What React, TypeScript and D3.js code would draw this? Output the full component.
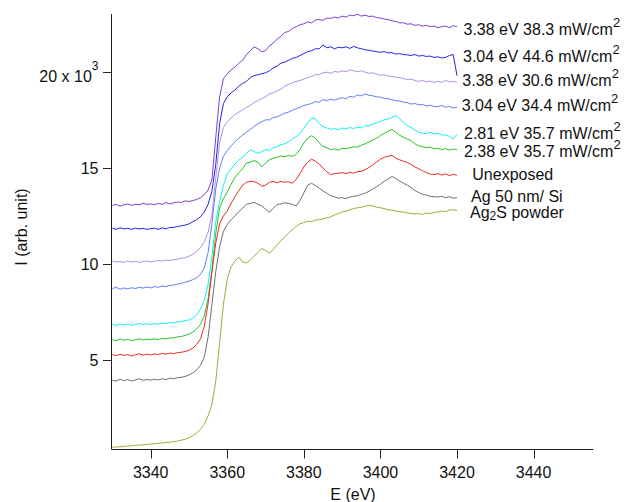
import React from "react";
import * as d3 from "d3";

const W = 628;
const H = 502;
const FONT = "'Liberation Sans', Arial, Helvetica, sans-serif";

// energy grid (eV)
const energies: number[] = d3.range(3330, 3421, 1);

// intensities in units of 10^3
const s338_383 = [13.05,13.1,13.0,13.08,13.12,13.05,13.1,13.08,13.15,13.1,
  13.12,13.08,13.15,13.1,13.2,13.12,13.18,13.22,13.2,13.28,
  13.25,13.3,13.35,13.45,13.6,13.85,14.4,16.6,18.7,19.65,
  19.9,20.1,20.25,20.45,20.6,20.9,21.1,21.3,21.2,21.05,
  21.1,21.35,21.5,21.7,21.85,22.05,22.1,22.25,22.35,22.45,
  22.5,22.6,22.55,22.7,22.72,22.68,22.8,22.78,22.85,22.8,
  22.9,22.85,22.95,22.92,23.0,22.9,22.95,22.88,22.9,22.82,
  22.8,22.75,22.72,22.65,22.62,22.55,22.55,22.48,22.5,22.42,
  22.45,22.38,22.42,22.35,22.38,22.3,22.35,22.38,22.3,22.4,
  22.35];
const s304_446 = [11.85,11.8,11.88,11.82,11.85,11.8,11.86,11.82,11.85,11.8,
  11.84,11.86,11.8,11.88,11.82,11.9,11.9,11.95,11.98,12.02,
  12.08,12.2,12.3,12.45,12.7,13.1,13.8,15.2,17.3,18.35,
  18.7,18.9,19.05,19.25,19.4,19.5,19.7,19.8,19.85,19.9,
  19.95,20.05,20.2,20.3,20.45,20.5,20.6,20.7,20.75,20.85,
  20.95,21.05,21.1,21.2,21.2,21.4,21.25,21.3,21.2,21.28,
  21.25,21.3,21.22,21.32,21.25,21.2,21.15,21.12,21.08,21.05,
  21.02,21.05,20.98,21.0,20.92,20.95,20.9,20.88,20.85,20.9,
  20.82,20.85,20.8,20.82,20.75,20.78,20.72,20.75,20.85,20.9,
  19.8];
const s338_306 = [10.15,10.1,10.12,10.08,10.15,10.1,10.13,10.08,10.12,10.15,
  10.1,10.14,10.18,10.15,10.2,10.18,10.22,10.25,10.3,10.32,
  10.4,10.5,10.65,10.85,11.15,11.65,12.6,14.5,16.3,17.1,
  17.4,17.6,17.78,17.9,18.02,18.15,18.25,18.4,18.5,18.6,
  18.7,18.85,18.9,19.0,19.1,19.25,19.35,19.42,19.5,19.55,
  19.62,19.7,19.75,19.85,19.85,19.95,19.98,19.92,20.02,19.98,
  20.05,20.0,20.1,20.05,20.0,20.05,19.98,19.92,19.95,19.88,
  19.82,19.85,19.78,19.75,19.72,19.7,19.65,19.6,19.62,19.55,
  19.5,19.55,19.48,19.52,19.45,19.5,19.45,19.55,19.48,19.5,
  19.45];
const s304_344 = [8.72,8.78,8.68,8.75,8.7,8.76,8.72,8.78,8.74,8.8,
  8.75,8.82,8.78,8.85,8.82,8.88,8.9,8.95,8.98,9.05,
  9.1,9.18,9.28,9.45,9.8,10.6,12.1,13.9,15.0,15.6,
  15.9,16.15,16.35,16.55,16.7,16.85,17.0,17.15,17.3,17.4,
  17.5,17.5,17.62,17.65,17.75,17.85,17.9,18.0,18.08,18.15,
  18.25,18.3,18.35,18.45,18.42,18.55,18.5,18.58,18.52,18.6,
  18.65,18.6,18.72,18.68,18.8,18.75,18.85,18.78,18.75,18.7,
  18.68,18.62,18.6,18.55,18.5,18.48,18.42,18.4,18.32,18.35,
  18.28,18.3,18.22,18.25,18.2,18.18,18.25,18.15,18.2,18.12,
  18.15];
const s281_357 = [6.85,6.8,6.88,6.82,6.86,6.8,6.85,6.9,6.85,6.88,
  6.84,6.9,6.86,6.92,6.88,6.95,6.92,6.98,7.0,7.05,
  7.08,7.18,7.35,7.65,8.1,8.95,10.4,12.2,13.25,14.1,
  14.7,14.95,15.2,15.4,15.55,15.75,15.95,15.85,15.75,15.85,
  15.95,15.9,16.05,16.1,16.2,16.25,16.35,16.5,16.62,16.8,
  17.05,17.35,17.6,17.55,17.3,17.15,17.08,17.0,17.05,16.98,
  17.08,17.02,17.1,17.05,17.12,17.08,17.18,17.2,17.28,17.35,
  17.42,17.5,17.55,17.62,17.72,17.55,17.38,17.2,17.1,16.95,
  16.85,16.82,16.78,16.85,16.75,16.8,16.7,16.72,16.65,16.5,
  16.75];
const s238_357 = [6.05,6.0,6.1,6.02,6.08,6.0,6.05,6.1,6.04,6.08,
  6.05,6.1,6.06,6.12,6.1,6.15,6.14,6.2,6.22,6.28,
  6.35,6.45,6.62,6.85,7.3,8.2,9.7,11.6,12.9,13.4,
  13.75,14.15,14.5,14.75,14.95,15.25,15.3,15.38,15.3,15.05,
  15.25,15.42,15.5,15.55,15.62,15.58,15.65,15.6,15.7,15.95,
  16.3,16.55,16.68,16.55,16.3,16.12,16.05,15.95,15.98,15.92,
  16.02,16.0,16.05,16.1,16.08,16.18,16.25,16.35,16.45,16.55,
  16.68,16.8,16.9,17.0,16.85,16.7,16.6,16.5,16.42,16.25,
  16.15,16.1,16.05,16.08,16.0,16.02,15.95,16.0,15.92,15.98,
  15.95];
const sUnexposed = [5.27,5.22,5.3,5.24,5.28,5.2,5.27,5.32,5.25,5.3,
  5.26,5.32,5.28,5.34,5.3,5.36,5.33,5.38,5.4,5.44,
  5.5,5.62,5.8,6.1,6.75,7.95,9.6,11.1,12.1,12.5,
  12.75,13.15,13.5,13.8,14.1,14.25,14.3,14.28,14.2,14.05,
  14.1,14.25,14.3,14.22,14.3,14.25,14.28,14.2,14.4,14.7,
  15.05,15.3,15.45,15.35,15.2,15.0,14.8,14.65,14.7,14.72,
  14.75,14.7,14.78,14.72,14.8,14.82,14.9,15.02,15.15,15.3,
  15.45,15.55,15.6,15.65,15.5,15.42,15.35,15.28,15.18,15.05,
  14.95,14.85,14.75,14.68,14.65,14.7,14.62,14.68,14.6,14.66,
  14.62];
const sAgSi = [3.95,3.9,4.0,3.92,3.98,3.9,3.96,4.02,3.94,3.98,
  3.95,4.0,3.96,4.02,3.98,4.05,4.02,4.08,4.1,4.14,
  4.22,4.32,4.48,4.72,5.15,6.2,7.9,9.6,10.9,11.7,
  12.05,12.3,12.5,12.72,12.9,13.1,13.15,13.2,13.1,13.02,
  12.85,12.68,12.9,13.1,13.12,13.18,13.15,13.1,13.02,13.3,
  13.7,14.1,14.2,14.08,13.95,13.8,13.68,13.55,13.5,13.42,
  13.45,13.4,13.48,13.52,13.55,13.62,13.68,13.78,13.9,14.02,
  14.15,14.3,14.42,14.55,14.45,14.32,14.2,14.1,13.98,13.82,
  13.72,13.62,13.58,13.52,13.5,13.48,13.52,13.45,13.5,13.42,
  13.45];
const sAg2S = [0.45,0.47,0.48,0.5,0.52,0.53,0.55,0.57,0.58,0.6,
  0.62,0.64,0.66,0.68,0.7,0.72,0.75,0.78,0.82,0.88,
  0.95,1.06,1.2,1.38,1.65,2.1,2.7,3.9,5.9,7.9,
  9.2,9.85,10.15,10.35,10.1,10.05,10.2,10.4,10.6,10.8,
  10.7,10.55,10.75,11.0,11.2,11.4,11.6,11.78,11.95,12.1,
  12.15,12.22,12.2,12.28,12.3,12.35,12.4,12.45,12.55,12.62,
  12.7,12.75,12.82,12.88,12.92,12.95,13.0,13.05,13.02,12.95,
  12.92,12.88,12.82,12.8,12.75,12.72,12.7,12.65,12.62,12.6,
  12.62,12.58,12.65,12.62,12.68,12.7,12.75,12.72,12.8,12.82,
  12.78];

const seriesValues = [s338_383, s304_446, s338_306, s304_344, s281_357, s238_357, sUnexposed, sAgSi, sAg2S];
const seriesColors = ["#7b3fd6", "#2222ee", "#b08ee8", "#5f7ff5", "#14eef0", "#26c426", "#f02828", "#707070", "#a8a838"];

// label: [main text, sup/sub text, kind]
const labelMain = ["3.38 eV 38.3 mW/cm", "3.04 eV 44.6 mW/cm", "3.38 eV 30.6 mW/cm", "3.04 eV 34.4 mW/cm", "2.81 eV 35.7 mW/cm", "2.38 eV 35.7 mW/cm", "Unexposed", "Ag 50 nm/ Si", "Ag"];
const labelX = [463.5, 463, 462.3, 461.7, 464, 464, 472.3, 471, 470];
const labelY = [35, 62.3, 86, 111, 139.3, 157.3, 179.5, 202, 217.5];

const xTicks = [3340, 3360, 3380, 3400, 3420, 3440];
const yTicks = [5, 10, 15, 20];

export default function App() {
  const x = d3.scaleLinear().domain([3329.76, 3455.6]).range([111.5, 593.3]);
  const y = d3.scaleLinear().domain([0.364, 23.01]).range([449, 14]);
  const line = d3.line<number>().x((_, i) => x(energies[i])).y((d) => y(d));
  const axisColor = "#222";

  return (
    <svg width={W} height={H} style={{ position: "absolute", left: 0, top: 0, background: "#fff" }} fontFamily={FONT}>
      <rect x={0} y={0} width={W} height={H} fill="#fff" />
      {seriesValues.map((vals, i) => (
        <path key={i} d={line(vals) || ""} fill="none" stroke={seriesColors[i]} strokeWidth={1} strokeLinejoin="round" />
      ))}
      {/* axes */}
      <line x1={111.5} y1={14} x2={111.5} y2={449.5} stroke={axisColor} strokeWidth={1} />
      <line x1={111.5} y1={449.5} x2={593.3} y2={449.5} stroke={axisColor} strokeWidth={1} />
      {xTicks.map((t) => (
        <g key={t}>
          <line x1={Math.round(x(t)) + 0.5} x2={Math.round(x(t)) + 0.5} y1={449.5} y2={458.5} stroke={axisColor} strokeWidth={1} />
          <text x={x(t)} y={477.5} fontSize={16} textAnchor="middle" fill="#111">{t}</text>
        </g>
      ))}
      {yTicks.map((t) => (
        <g key={t}>
          <line x1={103} x2={111.5} y1={Math.round(y(t)) + 0.5} y2={Math.round(y(t)) + 0.5} stroke={axisColor} strokeWidth={1} />
          {t === 20 ? (
            <text x={98.5} y={y(t) + 10} fontSize={16} textAnchor="end" fill="#111">
              20 x 10<tspan fontSize={12} dy={-12}>3</tspan>
            </text>
          ) : (
            <text x={98.5} y={y(t) + 5.8} fontSize={16} textAnchor="end" fill="#111">{t}</text>
          )}
        </g>
      ))}
      <text x={353} y={499.5} fontSize={16} textAnchor="middle" fill="#111">E (eV)</text>
      <text transform={`translate(27,227) rotate(-90)`} fontSize={16} textAnchor="middle" fill="#111">I (arb. unit)</text>
      {/* labels */}
      {labelMain.map((t, i) => (
        <text key={i} x={labelX[i]} y={labelY[i]} fontSize={16} fill="#111">
          {t}
          {i < 6 ? <tspan fontSize={13} dy={-8.5}>2</tspan> : null}
          {i === 8 ? (
            <>
              <tspan fontSize={12} dy={2.5}>2</tspan>
              <tspan dy={-2.5}>S powder</tspan>
            </>
          ) : null}
        </text>
      ))}
    </svg>
  );
}
